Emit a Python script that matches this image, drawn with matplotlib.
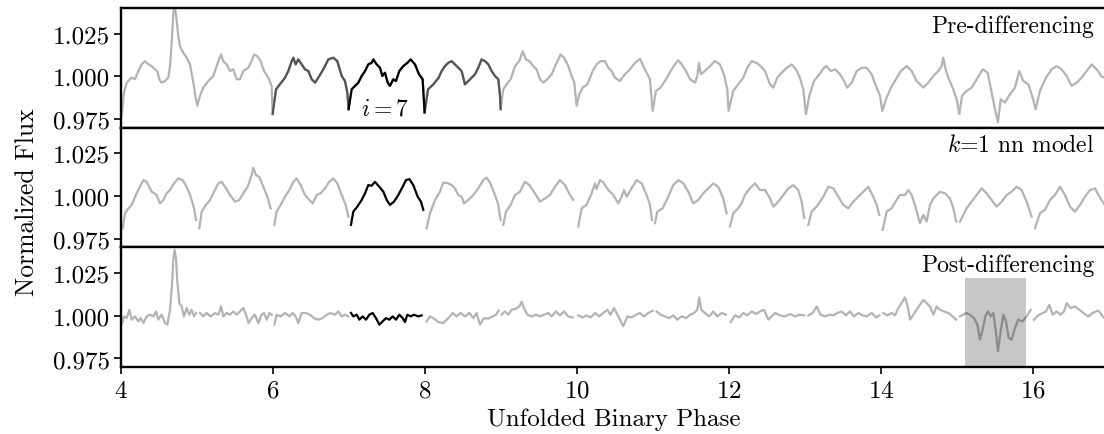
import numpy as np
import matplotlib
matplotlib.use('Agg')
from matplotlib import pyplot as plt
from matplotlib.ticker import FixedLocator, FormatStrFormatter

# light curve before differencing (phase, normalized flux)
pre_phase = [
    4.009, 4.039, 4.075, 4.140, 4.184, 4.228, 4.272, 4.316, 4.360, 4.404,
    4.447, 4.478, 4.504, 4.535, 4.579, 4.623, 4.645, 4.667, 4.689, 4.706,
    4.732, 4.754, 4.776, 4.820, 4.864, 4.908, 4.952, 4.978, 5.004, 5.039,
    5.083, 5.149, 5.215, 5.281, 5.316, 5.346, 5.390, 5.434, 5.478, 5.522,
    5.566, 5.610, 5.675, 5.719, 5.750, 5.794, 5.838, 5.882, 5.939, 5.982,
    5.995, 6.040, 6.090, 6.158, 6.202, 6.246, 6.268, 6.298, 6.333, 6.377,
    6.421, 6.465, 6.509, 6.553, 6.596, 6.662, 6.728, 6.794, 6.846, 6.904,
    6.947, 6.978, 6.995, 7.035, 7.079, 7.123, 7.167, 7.211, 7.254, 7.298,
    7.320, 7.364, 7.408, 7.439, 7.474, 7.509, 7.539, 7.583, 7.618, 7.662,
    7.715, 7.768, 7.811, 7.868, 7.921, 7.969, 7.995, 8.040, 8.110, 8.180,
    8.219, 8.263, 8.307, 8.351, 8.394, 8.438, 8.482, 8.526, 8.570, 8.614,
    8.658, 8.701, 8.745, 8.789, 8.833, 8.877, 8.921, 8.965, 8.987, 8.995,
    9.030, 9.074, 9.127, 9.184, 9.241, 9.285, 9.329, 9.373, 9.425, 9.469,
    9.513, 9.557, 9.609, 9.666, 9.723, 9.785, 9.829, 9.886, 9.929, 9.965,
    9.995, 10.030, 10.074, 10.136, 10.206, 10.258, 10.311, 10.368, 10.412, 10.456,
    10.500, 10.565, 10.631, 10.697, 10.763, 10.829, 10.872, 10.916, 10.960, 10.995,
    11.039, 11.100, 11.171, 11.232, 11.289, 11.333, 11.377, 11.434, 11.487, 11.553,
    11.583, 11.605, 11.631, 11.684, 11.750, 11.816, 11.881, 11.934, 11.978, 11.995,
    12.057, 12.122, 12.188, 12.241, 12.298, 12.364, 12.416, 12.474, 12.540, 12.583,
    12.636, 12.693, 12.759, 12.825, 12.882, 12.934, 12.978, 13.013, 13.057, 13.119,
    13.189, 13.250, 13.285, 13.338, 13.395, 13.461, 13.513, 13.557, 13.614, 13.680,
    13.746, 13.811, 13.877, 13.934, 13.987, 14.018, 14.066, 14.132, 14.197, 14.263,
    14.338, 14.404, 14.469, 14.557, 14.623, 14.689, 14.754, 14.798, 14.820, 14.846,
    14.886, 14.943, 14.996, 15.031, 15.066, 15.127, 15.193, 15.259, 15.338, 15.404,
    15.456, 15.500, 15.539, 15.575, 15.632, 15.697, 15.763, 15.820, 15.873, 15.939,
    15.996, 16.035, 16.092, 16.171, 16.246, 16.311, 16.377, 16.443, 16.509, 16.575,
    16.640, 16.706, 16.772, 16.816, 16.860, 16.900, 16.950]
pre_flux = [
    0.9769, 0.9905, 0.9963, 0.9992, 0.9983, 1.0031, 1.0070, 1.0089, 1.0070, 1.0060,
    1.0041, 1.0031, 0.9983, 0.9963, 0.9973, 0.9992, 1.0060, 1.0196, 1.0370, 1.0420,
    1.0331, 1.0234, 1.0176, 1.0138, 1.0109, 1.0070, 0.9963, 0.9886, 0.9828, 0.9886,
    0.9934, 0.9973, 1.0002, 1.0089, 1.0128, 1.0089, 1.0070, 1.0031, 1.0041, 0.9983,
    0.9983, 1.0031, 1.0050, 1.0089, 1.0128, 1.0118, 1.0089, 1.0031, 0.9992, 0.9944,
    0.9779, 0.9924, 0.9953, 0.9992, 1.0031, 1.0089, 1.0109, 1.0070, 1.0099, 1.0070,
    1.0041, 1.0031, 0.9983, 0.9963, 0.9992, 1.0041, 1.0099, 1.0109, 1.0089, 1.0002,
    0.9973, 0.9905, 0.9808, 0.9924, 0.9944, 0.9963, 1.0002, 1.0031, 1.0070, 1.0079,
    1.0099, 1.0070, 1.0050, 1.0002, 1.0021, 0.9963, 0.9944, 0.9983, 0.9973, 1.0031,
    1.0060, 1.0079, 1.0099, 1.0070, 1.0012, 0.9983, 0.9789, 0.9924, 0.9953, 0.9992,
    1.0031, 1.0060, 1.0079, 1.0089, 1.0070, 1.0050, 1.0031, 0.9953, 0.9973, 0.9992,
    1.0012, 1.0050, 1.0099, 1.0089, 1.0070, 1.0031, 1.0002, 0.9983, 0.9886, 0.9808,
    0.9924, 0.9953, 0.9983, 1.0060, 1.0089, 1.0147, 1.0099, 1.0089, 1.0060, 1.0041,
    0.9983, 0.9963, 0.9983, 1.0012, 1.0070, 1.0128, 1.0109, 1.0060, 1.0002, 0.9963,
    0.9828, 0.9895, 0.9934, 0.9953, 1.0031, 1.0070, 1.0089, 1.0089, 1.0050, 1.0031,
    0.9992, 0.9973, 1.0012, 1.0041, 1.0079, 1.0103, 1.0060, 1.0021, 0.9983, 0.9798,
    0.9915, 0.9934, 0.9983, 1.0031, 1.0070, 1.0095, 1.0070, 1.0031, 0.9983, 0.9963,
    1.0002, 1.0079, 1.0012, 1.0031, 1.0060, 1.0089, 1.0070, 1.0012, 0.9924, 0.9798,
    0.9915, 0.9953, 0.9992, 1.0050, 1.0089, 1.0079, 1.0060, 1.0031, 0.9953, 0.9934,
    0.9992, 1.0021, 1.0050, 1.0070, 1.0041, 0.9992, 0.9924, 0.9779, 0.9886, 0.9973,
    1.0012, 1.0050, 1.0060, 1.0031, 1.0041, 1.0012, 0.9973, 0.9934, 0.9963, 1.0031,
    1.0050, 1.0050, 1.0012, 0.9944, 0.9886, 0.9798, 0.9866, 0.9934, 0.9983, 1.0031,
    1.0060, 1.0031, 0.9973, 0.9934, 0.9963, 1.0002, 1.0031, 1.0060, 1.0109, 1.0050,
    0.9992, 0.9934, 0.9866, 0.9779, 0.9886, 0.9915, 0.9934, 0.9983, 1.0041, 1.0021,
    0.9905, 0.9808, 0.9731, 0.9866, 0.9847, 0.9895, 0.9934, 1.0031, 0.9973, 0.9953,
    0.9876, 0.9808, 0.9915, 0.9992, 1.0041, 1.0060, 1.0041, 1.0002, 0.9944, 0.9963,
    0.9992, 1.0031, 1.0070, 1.0050, 1.0030, 1.0000, 0.9990]

# k=1 nearest-neighbour model, one segment per cycle
model_phase = [
    4.022, 4.053, 4.083, 4.140, 4.206, 4.250, 4.294, 4.338, 4.404, 4.469,
    4.513, 4.557, 4.601, 4.645, 4.697, 4.754, 4.811, 4.864, 4.917, 4.961,
    4.987,
    5.031, 5.061, 5.118, 5.171, 5.224, 5.281, 5.325, 5.382, 5.434, 5.500,
    5.557, 5.610, 5.667, 5.719, 5.741, 5.776, 5.820, 5.873, 5.925, 5.969,
    6.018, 6.048, 6.101, 6.158, 6.215, 6.268, 6.311, 6.364, 6.421, 6.478,
    6.522, 6.575, 6.627, 6.684, 6.741, 6.794, 6.846, 6.904, 6.956, 6.991,
    7.026, 7.057, 7.110, 7.167, 7.211, 7.254, 7.298, 7.342, 7.399, 7.452,
    7.496, 7.539, 7.592, 7.649, 7.706, 7.750, 7.794, 7.846, 7.904, 7.947,
    7.978,
    8.022, 8.066, 8.132, 8.197, 8.241, 8.307, 8.351, 8.394, 8.438, 8.482,
    8.513, 8.570, 8.636, 8.701, 8.767, 8.811, 8.855, 8.921, 8.965, 8.995,
    9.030, 9.066, 9.127, 9.184, 9.250, 9.315, 9.373, 9.434, 9.513, 9.579,
    9.644, 9.710, 9.776, 9.842, 9.908, 9.951,
    10.017, 10.061, 10.127, 10.193, 10.237, 10.258, 10.302, 10.346, 10.412, 10.478,
    10.543, 10.587, 10.618, 10.653, 10.719, 10.785, 10.851, 10.916, 10.960, 10.987,
    11.026, 11.057, 11.127, 11.201, 11.267, 11.333, 11.399, 11.465, 11.530, 11.596,
    11.662, 11.728, 11.794, 11.859, 11.925, 11.969,
    12.013, 12.057, 12.122, 12.166, 12.210, 12.276, 12.342, 12.408, 12.474, 12.540,
    12.583, 12.649, 12.715, 12.781, 12.846, 12.912, 12.956, 12.991,
    13.044, 13.088, 13.154, 13.241, 13.307, 13.373, 13.439, 13.504, 13.570, 13.636,
    13.702, 13.768, 13.833, 13.899, 13.943, 13.978,
    14.022, 14.075, 14.140, 14.206, 14.250, 14.316, 14.360, 14.404, 14.447, 14.513,
    14.557, 14.601, 14.645, 14.689, 14.776, 14.842, 14.908, 14.952, 14.990,
    15.040, 15.127, 15.193, 15.259, 15.325, 15.390, 15.456, 15.522, 15.588, 15.654,
    15.719, 15.785, 15.851, 15.917, 15.983,
    16.026, 16.092, 16.158, 16.224, 16.289, 16.355, 16.421, 16.487, 16.553, 16.619,
    16.684, 16.750, 16.816, 16.870, 16.940]
model_flux = [
    0.9812, 0.9899, 0.9919, 0.9948, 1.0016, 1.0054, 1.0093, 1.0083, 1.0025, 1.0006,
    0.9957, 0.9977, 1.0016, 1.0035, 1.0074, 1.0103, 1.0093, 1.0054, 0.9996, 0.9928,
    0.9860,
    0.9812, 0.9909, 0.9948, 0.9977, 1.0025, 1.0074, 1.0083, 1.0045, 1.0006, 0.9967,
    0.9977, 1.0016, 1.0054, 1.0122, 1.0165, 1.0122, 1.0112, 1.0054, 0.9996, 0.9928,
    0.9831, 0.9909, 0.9948, 0.9996, 1.0035, 1.0083, 1.0103, 1.0064, 1.0006, 0.9977,
    0.9957, 1.0006, 1.0016, 1.0045, 1.0083, 1.0103, 1.0074, 1.0006, 0.9948, 0.9880,
    0.9831, 0.9909, 0.9938, 0.9977, 1.0016, 1.0064, 1.0060, 1.0083, 1.0054, 1.0025,
    0.9977, 0.9948, 0.9967, 1.0006, 1.0054, 1.0093, 1.0099, 1.0064, 0.9996, 0.9967,
    0.9919,
    0.9812, 0.9899, 0.9977, 1.0025, 1.0079, 1.0074, 1.0064, 1.0045, 1.0006, 0.9996,
    0.9957, 0.9977, 1.0006, 1.0045, 1.0093, 1.0107, 1.0079, 1.0006, 0.9948, 0.9860,
    0.9831, 0.9909, 0.9948, 1.0006, 1.0025, 1.0083, 1.0064, 1.0025, 0.9967, 0.9986,
    1.0006, 1.0054, 1.0093, 1.0064, 1.0006, 0.9977,
    0.9822, 0.9928, 0.9948, 1.0016, 1.0074, 1.0041, 1.0093, 1.0079, 1.0035, 1.0006,
    0.9957, 0.9996, 1.0035, 0.9996, 1.0045, 1.0093, 1.0074, 1.0006, 0.9948, 0.9860,
    0.9841, 0.9909, 0.9928, 0.9996, 1.0064, 1.0093, 1.0074, 1.0025, 0.9957, 0.9977,
    1.0016, 1.0045, 1.0074, 1.0054, 0.9986, 0.9899,
    0.9822, 0.9899, 0.9928, 0.9957, 1.0006, 1.0045, 1.0074, 1.0035, 1.0035, 0.9986,
    0.9938, 0.9967, 1.0006, 1.0045, 1.0064, 1.0035, 0.9967, 0.9870,
    0.9831, 0.9909, 0.9938, 0.9996, 1.0054, 1.0045, 0.9996, 0.9948, 0.9928, 0.9967,
    0.9996, 1.0025, 1.0054, 0.9996, 0.9948, 0.9890,
    0.9802, 0.9909, 0.9928, 0.9977, 1.0006, 1.0006, 1.0035, 1.0006, 0.9948, 0.9841,
    0.9890, 0.9851, 0.9948, 0.9986, 1.0025, 1.0016, 0.9986, 0.9928, 0.9851,
    0.9851, 0.9928, 0.9967, 1.0006, 1.0045, 1.0016, 0.9977, 0.9938, 0.9967, 1.0006,
    1.0025, 1.0054, 1.0035, 0.9967, 0.9880,
    0.9812, 0.9899, 0.9919, 0.9977, 1.0006, 1.0054, 1.0006, 0.9938, 0.9909, 0.9948,
    0.9996, 1.0035, 1.0045, 1.0000, 0.9950]

# residual after dividing out the model
post_phase = [
    4.009, 4.039, 4.075, 4.110, 4.140, 4.184, 4.228, 4.259, 4.294, 4.338,
    4.382, 4.425, 4.461, 4.491, 4.535, 4.579, 4.610, 4.645, 4.671, 4.689,
    4.706, 4.724, 4.741, 4.768, 4.798, 4.829, 4.864, 4.899, 4.930, 4.961,
    4.987,
    5.039, 5.083, 5.127, 5.180, 5.237, 5.281, 5.316, 5.346, 5.390, 5.434,
    5.478, 5.522, 5.566, 5.610, 5.645, 5.680, 5.719, 5.763, 5.807, 5.851,
    5.882, 5.917, 5.952, 5.982,
    6.018, 6.048, 6.101, 6.158, 6.215, 6.259, 6.298, 6.333, 6.377, 6.434,
    6.487, 6.539, 6.596, 6.654, 6.706, 6.759, 6.816, 6.860, 6.904, 6.947,
    6.991,
    7.026, 7.057, 7.101, 7.136, 7.180, 7.224, 7.268, 7.311, 7.355, 7.399,
    7.443, 7.487, 7.531, 7.575, 7.618, 7.662, 7.706, 7.737, 7.768, 7.811,
    7.855, 7.912, 7.956,
    8.022, 8.066, 8.118, 8.175, 8.241, 8.307, 8.364, 8.416, 8.469, 8.526,
    8.583, 8.636, 8.679, 8.723, 8.776, 8.833, 8.890, 8.934, 8.969,
    9.008, 9.052, 9.096, 9.140, 9.197, 9.241, 9.272, 9.302, 9.346, 9.403,
    9.460, 9.513, 9.566, 9.622, 9.666, 9.723, 9.776, 9.829, 9.886, 9.943,
    10.017, 10.074, 10.127, 10.180, 10.237, 10.294, 10.346, 10.399, 10.443, 10.487,
    10.543, 10.609, 10.662, 10.719, 10.776, 10.829, 10.881, 10.938, 10.995,
    11.048, 11.100, 11.158, 11.215, 11.267, 11.320, 11.377, 11.434, 11.487, 11.539,
    11.583, 11.609, 11.636, 11.684, 11.741, 11.794, 11.846, 11.904, 11.961,
    12.022, 12.079, 12.136, 12.188, 12.241, 12.298, 12.355, 12.408, 12.461, 12.518,
    12.605, 12.671, 12.737, 12.803, 12.868, 12.934, 12.991,
    13.044, 13.101, 13.154, 13.206, 13.263, 13.320, 13.373, 13.425, 13.482, 13.539,
    13.592, 13.645, 13.702, 13.759, 13.811, 13.877, 13.934, 13.978,
    14.031, 14.083, 14.140, 14.184, 14.228, 14.272, 14.316, 14.346, 14.382, 14.425,
    14.469, 14.513, 14.557, 14.601, 14.645, 14.689, 14.732, 14.776, 14.829, 14.886,
    14.943, 14.990,
    15.040, 15.119, 15.171, 15.224, 15.268, 15.303, 15.338, 15.373, 15.408, 15.443,
    15.478, 15.509, 15.539, 15.575, 15.610, 15.645, 15.680, 15.719, 15.763, 15.807,
    15.864, 15.917, 15.969,
    16.013, 16.070, 16.127, 16.171, 16.215, 16.259, 16.311, 16.364, 16.408, 16.443,
    16.496, 16.553, 16.610, 16.662, 16.728, 16.785, 16.860, 16.930]
post_flux = [
    0.9948, 0.9996, 0.9986, 1.0035, 0.9977, 0.9996, 0.9967, 0.9986, 0.9957, 0.9996,
    1.0006, 0.9996, 1.0025, 0.9977, 1.0006, 0.9957, 0.9948, 1.0035, 1.0180, 1.0335,
    1.0384, 1.0335, 1.0200, 1.0074, 1.0054, 0.9996, 1.0045, 1.0006, 1.0035, 0.9996,
    1.0016,
    1.0016, 0.9996, 1.0016, 0.9996, 1.0016, 1.0006, 1.0054, 0.9996, 1.0016, 1.0006,
    1.0025, 1.0006, 1.0025, 1.0045, 1.0006, 0.9957, 0.9986, 1.0006, 0.9957, 1.0006,
    1.0016, 0.9977, 1.0016, 1.0006,
    0.9948, 1.0006, 0.9996, 1.0016, 0.9996, 1.0016, 0.9996, 0.9957, 1.0016, 1.0016,
    1.0006, 0.9986, 0.9977, 0.9986, 1.0006, 1.0016, 1.0006, 1.0025, 0.9996, 1.0006,
    0.9996,
    1.0016, 0.9996, 1.0006, 0.9977, 0.9996, 0.9977, 1.0006, 1.0016, 0.9986, 0.9948,
    0.9967, 0.9986, 0.9977, 0.9996, 0.9977, 1.0006, 0.9986, 0.9963, 1.0006, 0.9996,
    1.0006, 0.9996, 1.0002,
    0.9967, 0.9996, 0.9983, 0.9963, 0.9957, 0.9986, 1.0016, 0.9996, 1.0016, 0.9996,
    1.0016, 0.9986, 1.0016, 0.9948, 0.9986, 0.9983, 0.9996, 1.0006, 1.0029,
    1.0006, 1.0025, 1.0006, 1.0035, 1.0041, 1.0054, 1.0083, 1.0045, 1.0006, 0.9996,
    1.0006, 0.9996, 1.0006, 1.0016, 0.9996, 1.0025, 1.0002, 1.0025, 0.9996, 0.9990,
    1.0002, 0.9990, 1.0002, 0.9990, 1.0016, 0.9996, 1.0016, 1.0035, 1.0006, 1.0045,
    0.9996, 0.9938, 0.9996, 0.9990, 1.0006, 1.0016, 0.9996, 1.0016, 1.0029,
    1.0025, 1.0006, 0.9996, 0.9986, 1.0002, 0.9977, 0.9996, 0.9986, 1.0006, 1.0016,
    1.0035, 1.0107, 1.0035, 1.0016, 0.9996, 1.0025, 0.9996, 1.0016, 1.0006,
    0.9963, 1.0002, 0.9990, 1.0016, 1.0002, 1.0025, 1.0010, 1.0025, 1.0035, 0.9977,
    1.0016, 1.0002, 0.9996, 1.0010, 0.9996, 1.0006, 1.0002,
    1.0002, 1.0016, 1.0054, 1.0006, 0.9996, 1.0006, 1.0002, 1.0016, 1.0025, 1.0002,
    1.0025, 0.9996, 1.0016, 1.0002, 0.9996, 1.0016, 0.9990, 1.0002,
    1.0016, 1.0002, 1.0016, 1.0002, 1.0045, 1.0074, 1.0107, 1.0064, 0.9977, 1.0006,
    1.0035, 1.0064, 1.0093, 1.0074, 1.0054, 1.0006, 1.0054, 1.0035, 1.0025, 1.0016,
    0.9996, 0.9977,
    0.9996, 1.0016, 1.0006, 0.9986, 0.9948, 0.9860, 0.9919, 0.9996, 1.0025, 0.9996,
    1.0016, 0.9919, 0.9793, 0.9909, 1.0006, 0.9967, 0.9870, 0.9860, 0.9928, 0.9977,
    0.9967, 0.9996, 1.0035,
    0.9977, 1.0002, 1.0016, 1.0025, 1.0064, 1.0006, 1.0025, 1.0006, 1.0025, 1.0074,
    1.0045, 1.0054, 1.0035, 1.0016, 0.9996, 1.0016, 1.0030, 0.9990]

cycles = list(range(4, 17))
target_cycle = 7
neighbour_cycles = [6, 8]
flagged_span = (15.11, 15.91, 1.022)
panel_titles = ['Pre-differencing', '$k$=1 nn model', 'Post-differencing']
yticks = [0.975, 1.000, 1.025]
xticks = [4, 6, 8, 10, 12, 14, 16]

LIGHT = '0.7'
DARK = '0.33'
LW = 1.6

plt.rcParams['font.family'] = 'serif'
plt.rcParams['font.serif'] = ['cmr10']
plt.rcParams['mathtext.fontset'] = 'cm'
plt.rcParams['axes.unicode_minus'] = False
plt.rcParams['axes.formatter.use_mathtext'] = True
plt.rcParams['font.size'] = 18


def cycle_slice(phase, n, lead=False):
    # indices of points in cycle n, optionally with the point before it
    idx = np.where(np.floor(phase) == n)[0]
    if lead and idx[0] > 0:
        idx = np.concatenate([[idx[0] - 1], idx])
    return idx


fig = plt.figure(figsize=(11.04, 4.35), dpi=100)
left, width = 0.1096, 0.8949
bottoms = [0.7043, 0.4292, 0.1540]
height = 0.2751
axes = []
for b in bottoms:
    ax = fig.add_axes([left, b, width, height],
                      sharex=axes[0] if axes else None)
    axes.append(ax)

pre_phase = np.array(pre_phase)
pre_flux = np.array(pre_flux)
model_phase = np.array(model_phase)
model_flux = np.array(model_flux)
post_phase = np.array(post_phase)
post_flux = np.array(post_flux)

# top panel: full light curve, neighbours and target cycle on top
ax = axes[0]
ax.plot(pre_phase, pre_flux, color=LIGHT, lw=LW)
for n in neighbour_cycles:
    idx = cycle_slice(pre_phase, n, lead=True)
    ax.plot(pre_phase[idx], pre_flux[idx], color=DARK, lw=LW)
idx = cycle_slice(pre_phase, target_cycle, lead=True)
ax.plot(pre_phase[idx], pre_flux[idx], color='k', lw=LW)
ax.text(7.47, 0.9815, '$i=7$', ha='center', va='center', fontsize=17)

# middle and bottom panels are drawn cycle by cycle
for ax, ph, fl in [(axes[1], model_phase, model_flux),
                   (axes[2], post_phase, post_flux)]:
    for n in cycles:
        idx = cycle_slice(ph, n)
        if len(idx) == 0:
            continue
        c = 'k' if n == target_cycle else LIGHT
        ax.plot(ph[idx], fl[idx], color=c, lw=LW)

x0, x1, ytop = flagged_span
axes[2].axvspan(x0, x1, ymin=0, ymax=(ytop - 0.97) / 0.07,
                color='k', alpha=0.22, lw=0, zorder=3)

for ax, title in zip(axes, panel_titles):
    ax.set_xlim(4, 17)
    ax.set_ylim(0.97, 1.04)
    ax.yaxis.set_major_locator(FixedLocator(yticks))
    ax.yaxis.set_major_formatter(FormatStrFormatter('%.3f'))
    ax.tick_params(axis='y', direction='out', length=5, width=1.2, pad=3,
                   labelsize=18)
    for sp in ax.spines.values():
        sp.set_linewidth(1.7)
    ax.text(0.985, 0.945, title, transform=ax.transAxes, ha='right',
            va='top', fontsize=17)

for ax in axes[:2]:
    ax.tick_params(axis='x', bottom=False, labelbottom=False)
axes[2].xaxis.set_major_locator(FixedLocator(xticks))
axes[2].tick_params(axis='x', direction='out', length=5, width=1.2, pad=4,
                    labelsize=18)

fig.text(0.025, 0.535, 'Normalized Flux', rotation=90, ha='center',
         va='center', fontsize=18.5)
fig.text(0.556, 0.035, 'Unfolded Binary Phase', ha='center', va='center',
         fontsize=18)

fig.savefig('out.png', dpi=100)
